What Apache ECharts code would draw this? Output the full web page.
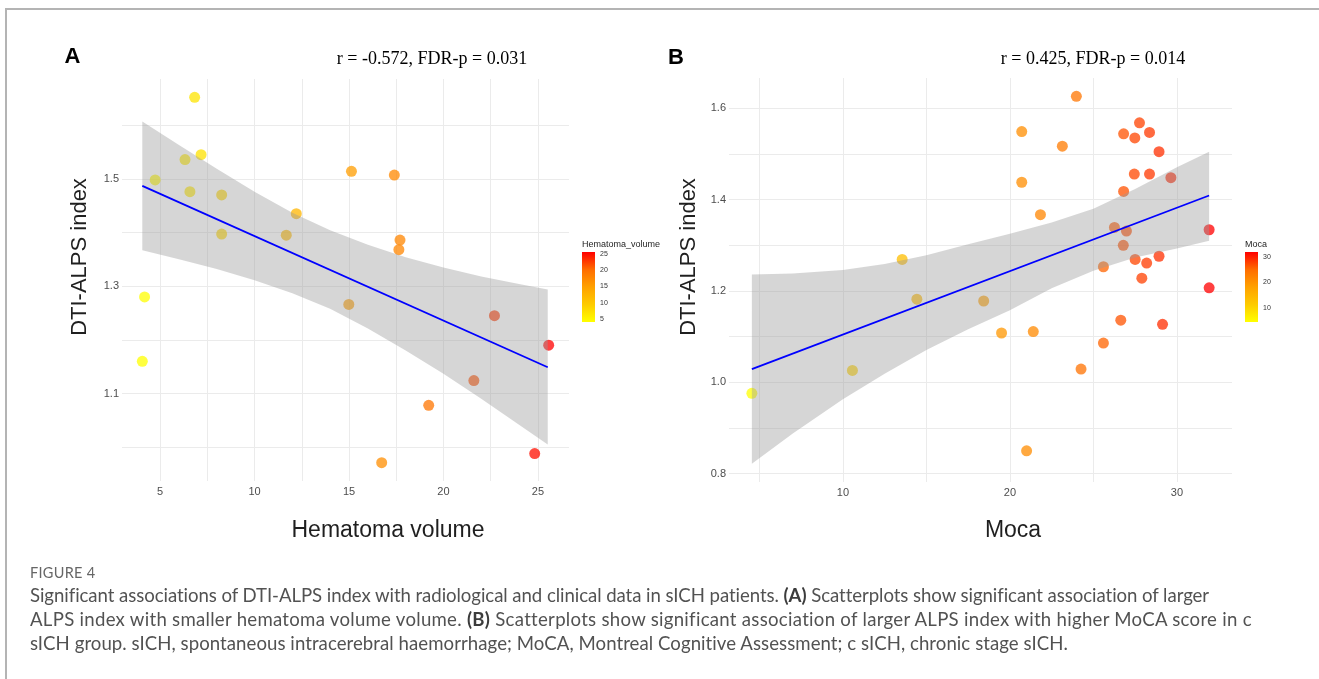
<!DOCTYPE html>
<html>
<head>
<meta charset="utf-8">
<title>Figure 4</title>
<script src="https://cdn.jsdelivr.net/npm/echarts@6/dist/echarts.min.js"></script>
<style>
  html, body { margin: 0; padding: 0; background: #fff; }
  #page { position: relative; width: 1319px; height: 679px; overflow: hidden; }
  #chart { position: absolute; left: 0; top: 0; width: 1319px; height: 679px; }
  #frame { position: absolute; left: 5px; top: 8px; width: 1400px; height: 800px;
           border-top: 2px solid #b4b4b4; border-left: 2px solid #b4b4b4; }
  #caption { position: absolute; left: 30px; top: 563px; white-space: nowrap;
             font-family: Lato, 'Open Sans', sans-serif; color: #525252; }
  #caption .fig { font-size: 14.5px; line-height: 20px; color: #666; letter-spacing: 0.3px; }
  #caption .line { font-size: 18.6px; line-height: 24px; }
  #caption .l1 { letter-spacing: -0.06px; }
  #caption .l2 { letter-spacing: 0.28px; }
  #caption .l3 { letter-spacing: 0.06px; }
  #caption b { color: #3c3c3c; }
</style>
</head>
<body>
<div id="page">
  <div id="frame"></div>
  <div id="chart"></div>
  <div id="caption">
    <div class="fig">FIGURE 4</div>
    <div class="line l1">Significant associations of DTI-ALPS index with radiological and clinical data in sICH patients. <b>(A)</b> Scatterplots show significant association of larger</div>
    <div class="line l2">ALPS index with smaller hematoma volume volume. <b>(B)</b> Scatterplots show significant association of larger ALPS index with higher MoCA score in c</div>
    <div class="line l3">sICH group. sICH, spontaneous intracerebral haemorrhage; MoCA, Montreal Cognitive Assessment; c sICH, chronic stage sICH.</div>
  </div>
</div>
<script>
// ---- panel A: hematoma volume vs DTI-ALPS index ----
var volA  = [6.83, 7.17, 6.32, 4.74, 6.58, 8.26, 12.21, 8.26, 11.68, 15.13, 17.40,
             17.70, 17.64, 4.18, 4.06, 14.99, 22.70, 25.57, 21.61, 19.22, 16.73, 24.83];
var alpsA = [1.652, 1.545, 1.536, 1.498, 1.476, 1.470, 1.435, 1.397, 1.395, 1.514, 1.507,
             1.386, 1.368, 1.280, 1.160, 1.266, 1.245, 1.190, 1.124, 1.078, 0.971, 0.988];
// fitted line and its confidence band
var fitXA   = [4.06, 25.52];
var fitYA   = [1.487, 1.149];
var bandXA  = [4.06, 6, 8, 10, 12, 14, 16, 18, 20, 22, 24, 25.52];
var upperA  = [1.607, 1.563, 1.519, 1.476, 1.437, 1.404, 1.377, 1.354, 1.335, 1.318, 1.304, 1.294];
var lowerA  = [1.367, 1.350, 1.332, 1.311, 1.287, 1.258, 1.221, 1.180, 1.137, 1.090, 1.042, 1.005];
var ticksAX = [5, 10, 15, 20, 25];
var ticksAY = [1.1, 1.3, 1.5];
var legendTicksA = [5, 10, 15, 20, 25];

// ---- panel B: MoCA vs DTI-ALPS index ----
var mocaB  = [23.98, 20.71, 23.14, 20.71, 21.83, 27.76, 26.81, 27.48, 28.36, 28.93, 27.45, 28.36,
              29.64, 26.81, 26.26, 26.98, 26.79, 31.93, 13.55, 25.60, 27.50, 28.19, 28.93, 27.90,
              31.93, 14.43, 18.43, 19.50, 21.40, 26.64, 29.14, 25.60, 24.26, 10.57, 4.55, 21.00];
var alpsB  = [1.626, 1.549, 1.517, 1.438, 1.367, 1.568, 1.544, 1.535, 1.547, 1.505, 1.456, 1.456,
              1.448, 1.418, 1.339, 1.331, 1.300, 1.334, 1.269, 1.253, 1.269, 1.261, 1.276, 1.228,
              1.207, 1.182, 1.178, 1.108, 1.111, 1.136, 1.127, 1.086, 1.029, 1.026, 0.976, 0.850];
var fitXB   = [4.55, 31.93];
var fitYB   = [1.029, 1.409];
var bandXB  = [4.55, 7, 10, 12.5, 15, 17.5, 20, 22.5, 25, 27.5, 30, 31.93];
var upperB  = [1.236, 1.238, 1.246, 1.259, 1.278, 1.302, 1.325, 1.350, 1.380, 1.423, 1.471, 1.505];
var lowerB  = [0.822, 0.888, 0.963, 1.019, 1.071, 1.116, 1.158, 1.206, 1.244, 1.273, 1.293, 1.310];
var ticksBX = [10, 20, 30];
var ticksBY = [0.8, 1.0, 1.2, 1.4, 1.6];
var legendTicksB = [10, 20, 30];

// yellow -> red, interpolated like ggplot's gradient
var ramp = ['#FFFF00', '#FECB00', '#FFA100', '#FF6C00', '#FF0000'];

function pairs(xs, ys) {
    return xs.map(function (x, i) { return [x, ys[i]]; });
}
function range(arr) {
    return [Math.min.apply(null, arr), Math.max.apply(null, arr)];
}
// ggplot style 5% padding around the data
function expand(arrs) {
    var all = [].concat.apply([], arrs);
    var r = range(all), d = (r[1] - r[0]) * 0.05;
    return [r[0] - d, r[1] + d];
}
function onTick(list, v) {
    return list.some(function (t) { return Math.abs(t - v) < 1e-6; });
}
function labeler(list, digits) {
    return function (v) { return onTick(list, v) ? v.toFixed(digits) : ''; };
}

function panelAxis(grid, ext, step, list, digits, margin) {
    return {
        type: 'value', gridIndex: grid, min: ext[0], max: ext[1],
        minInterval: step, maxInterval: step,
        axisLine: { show: false },
        axisTick: { show: false },
        axisLabel: {
            formatter: labeler(list, digits), color: '#4D4D4D', fontSize: 11,
            fontFamily: 'Liberation Sans', margin: margin,
            showMinLabel: false, showMaxLabel: false
        },
        splitLine: {
            show: true, showMinLine: false, showMaxLine: false,
            lineStyle: { color: '#EBEBEB', width: 1 }
        }
    };
}

function legendAxis(grid, ext, step, list, pos, labels) {
    return {
        type: 'value', gridIndex: grid, min: ext[0], max: ext[1], position: pos, z: 10,
        minInterval: step, maxInterval: step,
        axisLine: { show: false },
        axisTick: { show: true, inside: true, length: 3, lineStyle: { color: '#fff', width: 1 } },
        axisLabel: {
            show: labels, formatter: labeler(list, 0), color: '#333', fontSize: 7,
            fontFamily: 'Liberation Sans', margin: 5, showMinLabel: false, showMaxLabel: false
        },
        splitLine: { show: false }
    };
}

function scatterSeries(idx, xs, ys) {
    return {
        type: 'scatter', xAxisIndex: idx, yAxisIndex: idx, data: pairs(xs, ys),
        symbolSize: 11, itemStyle: { opacity: 0.75 }, z: 2, silent: true
    };
}

function bandSeries(idx, xs, lower, upper) {
    return {
        type: 'custom', xAxisIndex: idx, yAxisIndex: idx, silent: true, z: 3,
        data: [[xs[0], lower[0]]],
        renderItem: function (params, api) {
            var pts = [];
            for (var i = 0; i < xs.length; i++) pts.push(api.coord([xs[i], upper[i]]));
            for (var j = xs.length - 1; j >= 0; j--) pts.push(api.coord([xs[j], lower[j]]));
            return { type: 'polygon', shape: { points: pts }, style: { fill: 'rgba(153,153,153,0.4)' } };
        }
    };
}

function fitSeries(idx, xs, ys) {
    return {
        type: 'line', xAxisIndex: idx, yAxisIndex: idx, data: pairs(xs, ys),
        showSymbol: false, silent: true, z: 4,
        lineStyle: { color: '#0000FF', width: 1.8 }
    };
}

function colorbarSeries(idx, ext) {
    var stops = ramp.map(function (c, i) { return { offset: i / (ramp.length - 1), color: c }; });
    return {
        type: 'custom', xAxisIndex: idx, yAxisIndex: idx, silent: true, z: 2,
        data: [[0, ext[0], ext[1]]],
        encode: { x: 0, y: [1, 2] },
        renderItem: function (params, api) {
            var lo = api.coord([0, api.value(1)]);
            var hi = api.coord([1, api.value(2)]);
            return {
                type: 'rect',
                shape: { x: lo[0], y: hi[1], width: hi[0] - lo[0], height: lo[1] - hi[1] },
                style: { fill: new echarts.graphic.LinearGradient(0, 1, 0, 0, stops) }
            };
        }
    };
}

function label(text, x, y, font, color, rot) {
    return {
        type: 'text', x: x, y: y, rotation: rot || 0, silent: true,
        style: { text: text, font: font, fill: color, align: 'center', verticalAlign: 'middle' }
    };
}

var volRange = range(volA);
var mocaRange = range(mocaB);

var option = {
    animation: false,
    backgroundColor: 'transparent',
    grid: [
        { left: 122, top: 79, width: 447, height: 402, outerBoundsMode: 'none' },
        { left: 729, top: 78, width: 503, height: 404, outerBoundsMode: 'none' },
        { left: 582, top: 252, width: 13, height: 70, outerBoundsMode: 'none' },
        { left: 1245, top: 252, width: 13, height: 70, outerBoundsMode: 'none' }
    ],
    xAxis: [
        panelAxis(0, expand([volA]), 2.5, ticksAX, 0, 5),
        panelAxis(1, expand([mocaB]), 5, ticksBX, 0, 5),
        { type: 'value', gridIndex: 2, min: 0, max: 1, show: false },
        { type: 'value', gridIndex: 3, min: 0, max: 1, show: false }
    ],
    yAxis: [
        panelAxis(0, expand([alpsA, upperA, lowerA]), 0.1, ticksAY, 1, 3),
        panelAxis(1, expand([alpsB, upperB, lowerB]), 0.1, ticksBY, 1, 3),
        legendAxis(2, volRange, 5, legendTicksA, 'right', true),
        legendAxis(3, mocaRange, 10, legendTicksB, 'right', true)
    ],
    visualMap: [
        { type: 'continuous', show: false, seriesIndex: 0, dimension: 0,
          min: volRange[0], max: volRange[1], inRange: { color: ramp } },
        { type: 'continuous', show: false, seriesIndex: 3, dimension: 0,
          min: mocaRange[0], max: mocaRange[1], inRange: { color: ramp } }
    ],
    series: [
        scatterSeries(0, volA, alpsA),
        bandSeries(0, bandXA, lowerA, upperA),
        fitSeries(0, fitXA, fitYA),
        scatterSeries(1, mocaB, alpsB),
        bandSeries(1, bandXB, lowerB, upperB),
        fitSeries(1, fitXB, fitYB),
        colorbarSeries(2, volRange),
        colorbarSeries(3, mocaRange)
    ],
    graphic: [
        label('A', 72.5, 57, 'bold 22px "Liberation Sans"', '#000'),
        label('B', 676, 58, 'bold 22px "Liberation Sans"', '#000'),
        label('r = -0.572, FDR-p = 0.031', 432, 59, '18px "Liberation Serif"', '#000'),
        label('r = 0.425, FDR-p = 0.014', 1093, 59, '18px "Liberation Serif"', '#000'),
        label('Hematoma volume', 388, 531, '23px "Liberation Sans"', '#1f1f1f'),
        label('Moca', 1013, 531, '23px "Liberation Sans"', '#1f1f1f'),
        label('DTI-ALPS index', 80, 257, '22px "Liberation Sans"', '#1f1f1f', Math.PI / 2),
        label('DTI-ALPS index', 689, 257, '22px "Liberation Sans"', '#1f1f1f', Math.PI / 2),
        {
            type: 'text', x: 582, y: 245, silent: true,
            style: { text: 'Hematoma_volume', font: '9px "Liberation Sans"', fill: '#1f1f1f', align: 'left', verticalAlign: 'middle' }
        },
        {
            type: 'text', x: 1245, y: 245, silent: true,
            style: { text: 'Moca', font: '9px "Liberation Sans"', fill: '#1f1f1f', align: 'left', verticalAlign: 'middle' }
        }
    ]
};

var chart = echarts.init(document.getElementById('chart'), null, { renderer: 'canvas' });
chart.setOption(option);
</script>
</body>
</html>
